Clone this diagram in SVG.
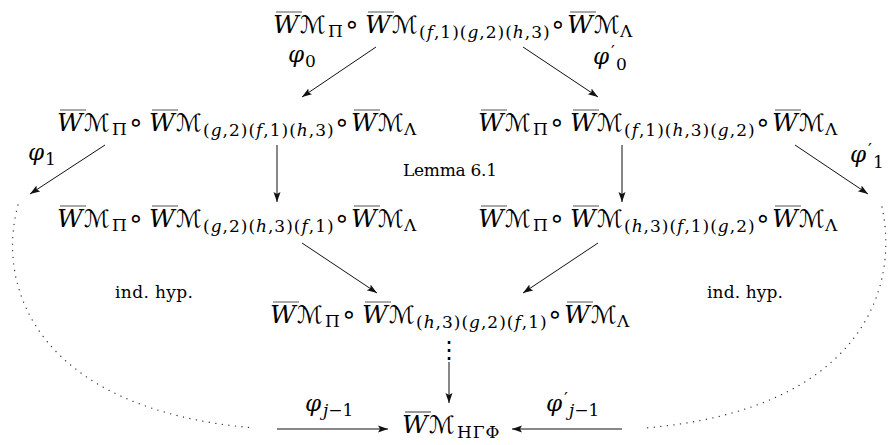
<svg xmlns="http://www.w3.org/2000/svg" width="891" height="445" viewBox="0 0 891 445">
<defs>
<style>
text{fill:#000}
.m{font-family:'DejaVu Serif',serif;font-size:25px}
.i{font-style:italic}
.w{font-style:italic;font-size:25px}
.cal{font-family:'DejaVu Sans',sans-serif;font-size:24px;font-style:normal}
.s{font-size:17px;font-style:normal}
.sub{font-size:17px;letter-spacing:1px;font-style:normal}
.op{font-family:'DejaVu Sans',sans-serif;font-size:26px;font-style:normal}
.phi{font-family:'DejaVu Serif',serif;font-size:23px;font-style:italic}
.ob{stroke:#555;stroke-width:1.2;fill:none}
.arr line{stroke:#111;stroke-width:1}
.dot{fill:none;stroke:#333;stroke-width:1.3;stroke-dasharray:0.1 6.5;stroke-linecap:round}
.lbl{font-family:'DejaVu Serif',serif;font-size:17px}
</style>
<marker id="ah" markerUnits="userSpaceOnUse" markerWidth="12" markerHeight="10" refX="10" refY="4" orient="auto"><path d="M0,0.5 L10,4 L0,7.5 L2,4 Z" fill="#111"/></marker>
</defs>
<rect width="891" height="445" fill="#fff"/>

<g id="n-top" transform="translate(273,33)">
<path class="ob" d="M3,-21H29M95,-21H121M297,-21H323"/>
<text class="m" font-family="DejaVu Serif"><tspan class="w" x="0" y="0">W</tspan><tspan class="cal" x="27" y="0">ℳ</tspan><tspan class="s" x="55" y="4">Π</tspan><tspan class="op" x="79" y="0" text-anchor="middle">∘</tspan><tspan class="w" x="92" y="0">W</tspan><tspan class="cal" x="119" y="0">ℳ</tspan><tspan class="sub" x="146" y="5">(<tspan class="i">f</tspan>,1)(<tspan class="i">g</tspan>,2)(<tspan class="i">h</tspan>,3)</tspan><tspan class="op" x="285" y="0" text-anchor="middle">∘</tspan><tspan class="w" x="294" y="0">W</tspan><tspan class="cal" x="321" y="0">ℳ</tspan><tspan class="s" x="347" y="4">Λ</tspan></text>
</g>

<g id="n-l1" transform="translate(57,131)">
<path class="ob" d="M3,-21H29M95,-21H121M297,-21H323"/>
<text class="m" font-family="DejaVu Serif"><tspan class="w" x="0" y="0">W</tspan><tspan class="cal" x="27" y="0">ℳ</tspan><tspan class="s" x="55" y="4">Π</tspan><tspan class="op" x="79" y="0" text-anchor="middle">∘</tspan><tspan class="w" x="92" y="0">W</tspan><tspan class="cal" x="119" y="0">ℳ</tspan><tspan class="sub" x="146" y="5">(<tspan class="i">g</tspan>,2)(<tspan class="i">f</tspan>,1)(<tspan class="i">h</tspan>,3)</tspan><tspan class="op" x="285" y="0" text-anchor="middle">∘</tspan><tspan class="w" x="294" y="0">W</tspan><tspan class="cal" x="321" y="0">ℳ</tspan><tspan class="s" x="347" y="4">Λ</tspan></text>
</g>

<g id="n-r1" transform="translate(478,131)">
<path class="ob" d="M3,-21H29M95,-21H121M297,-21H323"/>
<text class="m" font-family="DejaVu Serif"><tspan class="w" x="0" y="0">W</tspan><tspan class="cal" x="27" y="0">ℳ</tspan><tspan class="s" x="55" y="4">Π</tspan><tspan class="op" x="79" y="0" text-anchor="middle">∘</tspan><tspan class="w" x="92" y="0">W</tspan><tspan class="cal" x="119" y="0">ℳ</tspan><tspan class="sub" x="146" y="5">(<tspan class="i">f</tspan>,1)(<tspan class="i">h</tspan>,3)(<tspan class="i">g</tspan>,2)</tspan><tspan class="op" x="285" y="0" text-anchor="middle">∘</tspan><tspan class="w" x="294" y="0">W</tspan><tspan class="cal" x="321" y="0">ℳ</tspan><tspan class="s" x="347" y="4">Λ</tspan></text>
</g>

<g id="n-l2" transform="translate(57,227)">
<path class="ob" d="M3,-21H29M95,-21H121M297,-21H323"/>
<text class="m" font-family="DejaVu Serif"><tspan class="w" x="0" y="0">W</tspan><tspan class="cal" x="27" y="0">ℳ</tspan><tspan class="s" x="55" y="4">Π</tspan><tspan class="op" x="79" y="0" text-anchor="middle">∘</tspan><tspan class="w" x="92" y="0">W</tspan><tspan class="cal" x="119" y="0">ℳ</tspan><tspan class="sub" x="146" y="5">(<tspan class="i">g</tspan>,2)(<tspan class="i">h</tspan>,3)(<tspan class="i">f</tspan>,1)</tspan><tspan class="op" x="285" y="0" text-anchor="middle">∘</tspan><tspan class="w" x="294" y="0">W</tspan><tspan class="cal" x="321" y="0">ℳ</tspan><tspan class="s" x="347" y="4">Λ</tspan></text>
</g>

<g id="n-r2" transform="translate(478,227)">
<path class="ob" d="M3,-21H29M95,-21H121M297,-21H323"/>
<text class="m" font-family="DejaVu Serif"><tspan class="w" x="0" y="0">W</tspan><tspan class="cal" x="27" y="0">ℳ</tspan><tspan class="s" x="55" y="4">Π</tspan><tspan class="op" x="79" y="0" text-anchor="middle">∘</tspan><tspan class="w" x="92" y="0">W</tspan><tspan class="cal" x="119" y="0">ℳ</tspan><tspan class="sub" x="146" y="5">(<tspan class="i">h</tspan>,3)(<tspan class="i">f</tspan>,1)(<tspan class="i">g</tspan>,2)</tspan><tspan class="op" x="285" y="0" text-anchor="middle">∘</tspan><tspan class="w" x="294" y="0">W</tspan><tspan class="cal" x="321" y="0">ℳ</tspan><tspan class="s" x="347" y="4">Λ</tspan></text>
</g>

<g id="n-c3" transform="translate(270,323)">
<path class="ob" d="M3,-21H29M95,-21H121M297,-21H323"/>
<text class="m" font-family="DejaVu Serif"><tspan class="w" x="0" y="0">W</tspan><tspan class="cal" x="27" y="0">ℳ</tspan><tspan class="s" x="55" y="4">Π</tspan><tspan class="op" x="79" y="0" text-anchor="middle">∘</tspan><tspan class="w" x="92" y="0">W</tspan><tspan class="cal" x="119" y="0">ℳ</tspan><tspan class="sub" x="146" y="5">(<tspan class="i">h</tspan>,3)(<tspan class="i">g</tspan>,2)(<tspan class="i">f</tspan>,1)</tspan><tspan class="op" x="285" y="0" text-anchor="middle">∘</tspan><tspan class="w" x="294" y="0">W</tspan><tspan class="cal" x="321" y="0">ℳ</tspan><tspan class="s" x="347" y="4">Λ</tspan></text>
</g>

<g id="n-bot" transform="translate(402,433)">
<path class="ob" d="M3,-21H29"/>
<text class="m" font-family="DejaVu Serif"><tspan class="w" x="0" y="0">W</tspan><tspan class="cal" x="27" y="0">ℳ</tspan><tspan class="sub" x="55" y="5">HΓΦ</tspan></text>
</g>

<g id="connectors" class="arr">
<line x1="376" y1="47" x2="302" y2="97" marker-end="url(#ah)"/>
<line x1="523" y1="47" x2="598" y2="97" marker-end="url(#ah)"/>
<line x1="105" y1="145" x2="30" y2="194" marker-end="url(#ah)"/>
<line x1="277" y1="145" x2="277" y2="202" marker-end="url(#ah)"/>
<line x1="622" y1="145" x2="622" y2="202" marker-end="url(#ah)"/>
<line x1="795" y1="145" x2="868" y2="194" marker-end="url(#ah)"/>
<line x1="302" y1="243" x2="377" y2="293" marker-end="url(#ah)"/>
<line x1="598" y1="243" x2="523" y2="293" marker-end="url(#ah)"/>
<line x1="449" y1="362" x2="449" y2="403" marker-end="url(#ah)"/>
<line x1="277" y1="429" x2="388" y2="429" marker-end="url(#ah)"/>
<line x1="622" y1="429" x2="512" y2="429" marker-end="url(#ah)"/>
<path class="dot" d="M18,205 C-5,290 40,410 255,428"/>
<path class="dot" d="M882,207 C900,290 860,410 645,428"/>
<text x="449" y="358" text-anchor="middle" font-family="DejaVu Sans" font-size="24">⋮</text>
</g>

<g id="labels">
<text class="phi" font-family="DejaVu Serif" x="288" y="62">φ<tspan class="s" x="305" y="67">0</tspan></text>
<text class="phi" font-family="DejaVu Serif" x="593" y="64">φ<tspan class="s" x="611" y="57">′</tspan><tspan class="s" x="616" y="70">0</tspan></text>
<text class="phi" font-family="DejaVu Serif" x="28" y="160">φ<tspan class="s" x="45" y="165">1</tspan></text>
<text class="phi" font-family="DejaVu Serif" x="850" y="162">φ<tspan class="s" x="868" y="155">′</tspan><tspan class="s" x="873" y="168">1</tspan></text>
<text class="phi" font-family="DejaVu Serif" x="305" y="411">φ<tspan class="s" x="323" y="416"><tspan class="i">j</tspan>−1</tspan></text>
<text class="phi" font-family="DejaVu Serif" x="546" y="411">φ<tspan class="s" x="564" y="404">′</tspan><tspan class="s" x="569" y="416"><tspan class="i">j</tspan>−1</tspan></text>
<text class="lbl" font-family="DejaVu Serif" x="403" y="176" textLength="94">Lemma 6.1</text>
<text class="lbl" font-family="DejaVu Serif" x="115" y="298" textLength="78">ind. hyp.</text>
<text class="lbl" font-family="DejaVu Serif" x="707" y="298" textLength="76">ind. hyp.</text>
</g>
</svg>
